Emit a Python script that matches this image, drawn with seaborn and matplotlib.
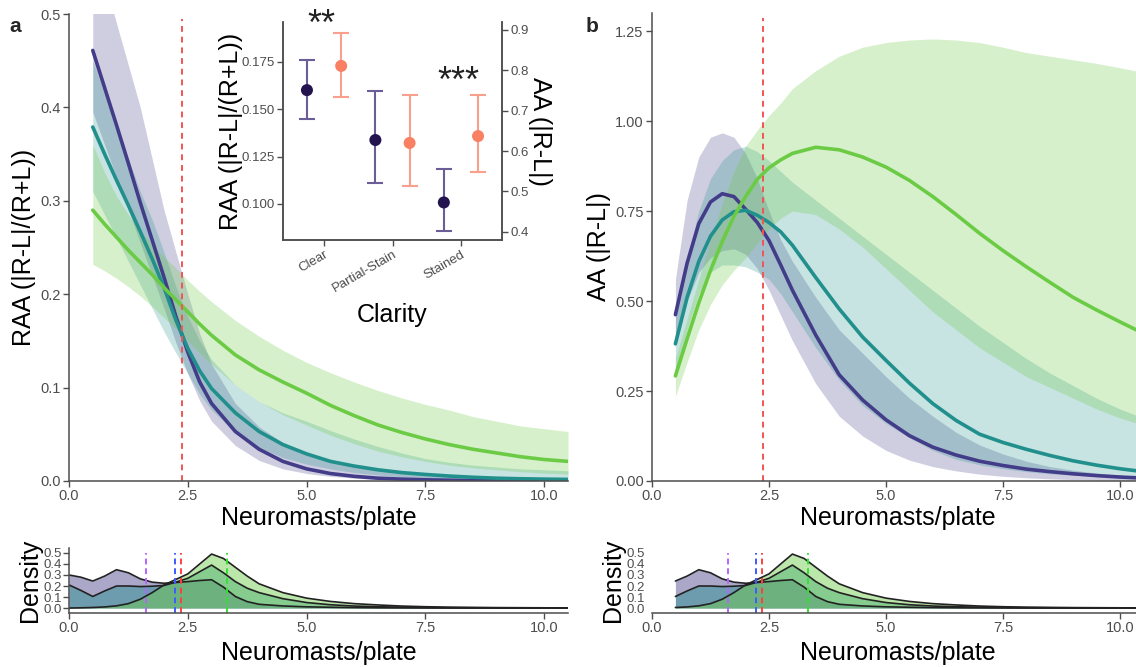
import numpy as np
import matplotlib
matplotlib.use('Agg')
import matplotlib.pyplot as plt
import seaborn as sns

sns.set_theme(style='ticks')
plt.rcParams['font.family'] = ['Liberation Sans', 'DejaVu Sans']

# ---------------- data ----------------
x_fit = [0.5, 0.75, 1.0, 1.25, 1.5, 1.75, 2.0, 2.25, 2.5, 2.75, 3.0, 3.5, 4.0, 4.5,
         5.0, 5.5, 6.0, 6.5, 7.0, 7.5, 8.0, 8.5, 9.0, 9.5, 10.0, 10.5]

# panel a : RAA
raa_navy = [0.461, 0.421, 0.381, 0.340, 0.298, 0.258, 0.218, 0.176, 0.138, 0.106, 0.083, 0.053, 0.034,
            0.021, 0.013, 0.008, 0.005, 0.003, 0.002, 0.0013, 0.0008, 0.0005, 0.0003, 0.0002, 0.0001, 0.0001]
raa_navy_lo = [0.395, 0.36, 0.325, 0.29, 0.255, 0.22, 0.185, 0.148, 0.115, 0.086, 0.064, 0.038, 0.022,
               0.013, 0.008, 0.005, 0.003, 0.0015, 0.001, 0.0005, 0.0003, 0.0002, 0.0001, 0.0001, 0.0, 0.0]
raa_navy_hi = [0.58, 0.535, 0.49, 0.445, 0.40, 0.345, 0.29, 0.245, 0.20, 0.158, 0.125, 0.083, 0.058,
               0.041, 0.030, 0.022, 0.016, 0.012, 0.009, 0.0065, 0.005, 0.0038, 0.003, 0.0023, 0.0018, 0.0014]
raa_teal = [0.379, 0.350, 0.322, 0.295, 0.267, 0.238, 0.207, 0.172, 0.142, 0.118, 0.099, 0.073, 0.053,
            0.039, 0.029, 0.021, 0.016, 0.012, 0.009, 0.007, 0.0053, 0.004, 0.003, 0.0024, 0.002, 0.0017]
raa_teal_lo = [0.31, 0.285, 0.26, 0.235, 0.21, 0.185, 0.16, 0.137, 0.115, 0.093, 0.076, 0.052, 0.036,
               0.025, 0.018, 0.013, 0.009, 0.0065, 0.0045, 0.0032, 0.0023, 0.0016, 0.0012, 0.0009, 0.0007, 0.0005]
raa_teal_hi = [0.45, 0.415, 0.38, 0.345, 0.31, 0.28, 0.245, 0.208, 0.176, 0.150, 0.130, 0.103, 0.085,
               0.073, 0.064, 0.054, 0.045, 0.037, 0.030, 0.024, 0.020, 0.017, 0.015, 0.013, 0.012, 0.011]
raa_green = [0.290, 0.275, 0.261, 0.247, 0.234, 0.221, 0.207, 0.194, 0.181, 0.168, 0.156, 0.135, 0.119,
             0.106, 0.094, 0.081, 0.070, 0.060, 0.052, 0.045, 0.039, 0.034, 0.030, 0.026, 0.023, 0.021]
raa_green_lo = [0.232, 0.225, 0.217, 0.208, 0.198, 0.187, 0.175, 0.163, 0.150, 0.137, 0.125, 0.103, 0.085,
                0.071, 0.060, 0.049, 0.040, 0.032, 0.026, 0.021, 0.017, 0.014, 0.012, 0.010, 0.0085, 0.0075]
raa_green_hi = [0.36, 0.33, 0.305, 0.285, 0.268, 0.253, 0.24, 0.228, 0.215, 0.203, 0.192, 0.172, 0.155,
                0.140, 0.127, 0.116, 0.106, 0.097, 0.089, 0.082, 0.076, 0.069, 0.064, 0.059, 0.056, 0.053]

# panel b : AA
aa_navy = [0.462, 0.605, 0.715, 0.775, 0.798, 0.790, 0.755, 0.718, 0.668, 0.600, 0.530, 0.405, 0.295,
           0.225, 0.170, 0.126, 0.094, 0.072, 0.055, 0.043, 0.033, 0.026, 0.020, 0.015, 0.011, 0.008]
aa_navy_lo = [0.38, 0.50, 0.58, 0.62, 0.64, 0.645, 0.63, 0.59, 0.53, 0.46, 0.39, 0.27, 0.18,
              0.125, 0.085, 0.058, 0.040, 0.028, 0.019, 0.013, 0.009, 0.006, 0.004, 0.003, 0.002, 0.001]
aa_navy_hi = [0.56, 0.78, 0.90, 0.955, 0.967, 0.955, 0.91, 0.84, 0.75, 0.67, 0.61, 0.51, 0.42,
              0.355, 0.29, 0.23, 0.18, 0.135, 0.10, 0.075, 0.055, 0.04, 0.03, 0.022, 0.016, 0.012]
aa_teal = [0.381, 0.510, 0.610, 0.680, 0.725, 0.748, 0.752, 0.738, 0.718, 0.692, 0.655, 0.565, 0.478,
           0.400, 0.335, 0.272, 0.215, 0.168, 0.130, 0.107, 0.088, 0.071, 0.056, 0.044, 0.034, 0.026]
aa_teal_lo = [0.30, 0.42, 0.52, 0.58, 0.60, 0.60, 0.595, 0.58, 0.56, 0.52, 0.47, 0.37, 0.28,
              0.21, 0.16, 0.12, 0.085, 0.06, 0.045, 0.034, 0.026, 0.020, 0.016, 0.013, 0.011, 0.009]
aa_teal_hi = [0.46, 0.62, 0.75, 0.84, 0.89, 0.92, 0.93, 0.915, 0.89, 0.86, 0.83, 0.78, 0.73,
              0.68, 0.63, 0.58, 0.53, 0.48, 0.43, 0.385, 0.34, 0.30, 0.265, 0.23, 0.20, 0.175]
aa_green = [0.292, 0.395, 0.495, 0.585, 0.665, 0.735, 0.790, 0.838, 0.870, 0.892, 0.910, 0.927, 0.920,
            0.900, 0.872, 0.835, 0.790, 0.740, 0.688, 0.640, 0.595, 0.552, 0.510, 0.475, 0.442, 0.410]
aa_green_lo = [0.235, 0.33, 0.42, 0.49, 0.545, 0.585, 0.62, 0.66, 0.70, 0.73, 0.75, 0.74, 0.70,
               0.65, 0.59, 0.53, 0.47, 0.42, 0.37, 0.33, 0.29, 0.26, 0.23, 0.20, 0.175, 0.155]
aa_green_hi = [0.34, 0.45, 0.56, 0.67, 0.77, 0.86, 0.93, 0.975, 1.015, 1.05, 1.09, 1.14, 1.18,
               1.205, 1.218, 1.225, 1.228, 1.225, 1.218, 1.205, 1.19, 1.18, 1.17, 1.16, 1.148, 1.135]

# densities
x_dens = [0.0, 0.25, 0.5, 0.75, 1.0, 1.25, 1.5, 1.75, 2.0, 2.25, 2.5, 2.75, 3.0, 3.25, 3.5, 3.75,
          4.0, 4.5, 5.0, 5.5, 6.0, 6.5, 7.0, 7.5, 8.0, 9.0, 10.0, 10.5]
dens_navy = [0.30, 0.28, 0.245, 0.29, 0.348, 0.32, 0.265, 0.235, 0.225, 0.232, 0.24, 0.25, 0.257, 0.19,
             0.105, 0.058, 0.034, 0.019, 0.011, 0.007, 0.004, 0.002, 0.001, 0.0005, 0.0, 0.0, 0.0, 0.0]
dens_teal = [0.21, 0.16, 0.105, 0.155, 0.20, 0.20, 0.195, 0.198, 0.205, 0.235, 0.27, 0.33, 0.39, 0.32,
             0.24, 0.18, 0.14, 0.085, 0.05, 0.03, 0.018, 0.012, 0.008, 0.005, 0.003, 0.001, 0.0005, 0.0]
dens_green = [0.0, 0.002, 0.005, 0.01, 0.02, 0.04, 0.08, 0.14, 0.21, 0.26, 0.31, 0.40, 0.49, 0.45,
              0.37, 0.29, 0.22, 0.14, 0.09, 0.06, 0.04, 0.028, 0.018, 0.012, 0.008, 0.004, 0.002, 0.001]
mean_lines = [1.63, 2.23, 2.35, 3.33]
mean_colors = ['#B266FF', '#3D5BFF', '#FF4040', '#33E033']
threshold = 2.37

# inset
clarity = ['Clear', 'Partial-Stain', 'Stained']
raa_pt = [0.160, 0.1337, 0.1008]
raa_lo = [0.145, 0.111, 0.0859]
raa_hi = [0.176, 0.1597, 0.1184]
aa_pt = [0.811, 0.620, 0.637]
aa_lo = [0.734, 0.513, 0.547]
aa_hi = [0.893, 0.740, 0.740]
stars = ['**', '', '***']

C_NAVY = '#433C89'
C_TEAL = '#21908C'
C_GREEN = '#6CCB45'
C_DOT = '#23134F'
C_SAL = '#FA8064'
GRAY = '#4D4D4D'
TICK_FS = 10.5
TITLE_FS = 18

W, H = 1136, 667
fig = plt.figure(figsize=(W / 100, H / 100), dpi=100)


def add_ax(l, t, r, b):
    return fig.add_axes([l / W, 1 - b / H, (r - l) / W, (b - t) / H])


def style(ax, left=True):
    sns.despine(ax=ax, left=not left)
    for s in ['left', 'bottom']:
        ax.spines[s].set_color(GRAY)
        ax.spines[s].set_linewidth(1.1)
    ax.tick_params(colors=GRAY, labelcolor=GRAY, length=4, width=1.0, labelsize=TICK_FS, pad=2)
    ax.set_facecolor('none')


xt = [0, 2.5, 5, 7.5, 10]
xtl = ['0.0', '2.5', '5.0', '7.5', '10.0']


def main_panel(ax, y, lo, hi, ylim, yt, ytl, ylabel):
    cols = [C_NAVY, C_TEAL, C_GREEN]
    for (l, h), c in zip(zip(lo, hi), cols):
        ax.fill_between(x_fit, l, h, color=c, alpha=0.25 if c != C_GREEN else 0.27, lw=0)
    for v, c in zip(y, cols):
        sns.lineplot(x=x_fit, y=v, ax=ax, color=c, lw=2.6, estimator=None, sort=False)
    ax.axvline(threshold, color='#F25555', ls=(0, (3, 2.5)), lw=1.4, ymax=0.99)
    ax.set_xlim(0, 10.5)
    ax.set_ylim(*ylim)
    ax.set_xticks(xt)
    ax.set_xticklabels(xtl)
    ax.set_yticks(yt)
    ax.set_yticklabels(ytl)
    ax.set_xlabel('Neuromasts/plate', fontsize=TITLE_FS, color='black', labelpad=2)
    ax.set_ylabel(ylabel, fontsize=TITLE_FS, color='black', labelpad=3)
    style(ax)


def dens_panel(ax, xmin, spine):
    xs = [v for v in x_dens if v >= xmin]
    n0 = len(x_dens) - len(xs)
    for d, c in zip([dens_navy, dens_teal, dens_green], [C_NAVY, C_TEAL, C_GREEN]):
        ds = d[n0:]
        ax.fill_between(xs, 0, ds, color=c, alpha=0.45, lw=0)
    for d in [dens_navy, dens_teal, dens_green]:
        ds = d[n0:]
        sns.lineplot(x=xs, y=ds, ax=ax, color='#222222', lw=1.2, estimator=None, sort=False)
    for m, c in zip(mean_lines, mean_colors):
        ax.axvline(m, color=c, ls=(0, (3, 2)), lw=1.4, ymax=0.92)
    ax.set_xlim(0, 10.5)
    ax.set_ylim(-0.045, 0.545)
    ax.set_xticks(xt)
    ax.set_xticklabels(xtl)
    ax.set_yticks([0, 0.1, 0.2, 0.3, 0.4, 0.5])
    ax.set_yticklabels(['0.0', '0.1', '0.2', '0.3', '0.4', '0.5'])
    ax.set_xlabel('Neuromasts/plate', fontsize=TITLE_FS, color='black', labelpad=4)
    ax.set_ylabel('Density', fontsize=TITLE_FS, color='black', labelpad=1)
    style(ax, left=spine)
    ax.tick_params(axis='y', labelsize=9.5, pad=1)
    if not spine:
        ax.tick_params(axis='y', color=(0, 0, 0, 0))


# panel a
ax_a = add_ax(69, 14, 568, 481)
main_panel(ax_a, [raa_navy, raa_teal, raa_green],
           [raa_navy_lo, raa_teal_lo, raa_green_lo],
           [raa_navy_hi, raa_teal_hi, raa_green_hi],
           (0, 0.5), [0, 0.1, 0.2, 0.3, 0.4, 0.5],
           ['0.0', '0.1', '0.2', '0.3', '0.4', '0.5'], 'RAA (|R-L|/(R+L))')

# panel b
bw = 46.8
ax_b = add_ax(652, 13, 652 + 10.5 * bw, 481)
main_panel(ax_b, [aa_navy, aa_teal, aa_green],
           [aa_navy_lo, aa_teal_lo, aa_green_lo],
           [aa_navy_hi, aa_teal_hi, aa_green_hi],
           (0, 1.3), [0, 0.25, 0.5, 0.75, 1.0, 1.25],
           ['0.00', '0.25', '0.50', '0.75', '1.00', '1.25'], 'AA (|R-L|)')

# densities
ax_da = add_ax(69, 548, 568, 613)
dens_panel(ax_da, 0.0, True)
ax_db = add_ax(652, 548, 652 + 10.5 * bw, 613)
dens_panel(ax_db, 0.5, False)

# inset
axi = add_ax(283, 22, 502, 240)
axr = axi.twinx()
pos = np.arange(len(clarity))
axi.errorbar(pos - 0.25, raa_pt,
             yerr=[np.array(raa_pt) - np.array(raa_lo), np.array(raa_hi) - np.array(raa_pt)],
             fmt='none', ecolor='#6B5E98', elinewidth=1.5, capsize=6, capthick=1.5)
sns.scatterplot(x=pos - 0.25, y=raa_pt, ax=axi, color=C_DOT, s=75, edgecolor='none', zorder=5)
axr.errorbar(pos + 0.25, aa_pt,
             yerr=[np.array(aa_pt) - np.array(aa_lo), np.array(aa_hi) - np.array(aa_pt)],
             fmt='none', ecolor='#F9A08C', elinewidth=1.5, capsize=6, capthick=1.5)
sns.scatterplot(x=pos + 0.25, y=aa_pt, ax=axr, color=C_SAL, s=75, edgecolor='none', zorder=5)
axi.set_xlim(-0.6, 2.6)
axi.set_ylim(0.081, 0.1959)
axr.set_ylim(0.3794, 0.9198)
axi.set_yticks([0.100, 0.125, 0.150, 0.175])
axi.set_yticklabels(['0.100', '0.125', '0.150', '0.175'])
axr.set_yticks([0.4, 0.5, 0.6, 0.7, 0.8, 0.9])
axr.set_yticklabels(['0.4', '0.5', '0.6', '0.7', '0.8', '0.9'])
axi.set_xticks(pos)
axi.set_xticklabels(clarity, rotation=30, ha='right', rotation_mode='anchor')
for a in (axi, axr):
    a.spines['top'].set_visible(False)
    for s in ['left', 'bottom', 'right']:
        a.spines[s].set_color(GRAY)
        a.spines[s].set_linewidth(1.1)
    a.tick_params(colors=GRAY, labelcolor=GRAY, length=4, width=1.0, labelsize=9.5, pad=2)
    a.set_facecolor('none')
axi.set_xlabel('Clarity', fontsize=TITLE_FS, color='black', labelpad=6)
axi.set_ylabel('RAA (|R-L|/(R+L))', fontsize=TITLE_FS, color='black', labelpad=-1)
axr.set_ylabel('AA (|R-L|)', fontsize=TITLE_FS, color='black', rotation=-90, labelpad=17)
# significance stars above the Clear and Stained pairs
star_y = [0.1942, None, 0.1642]
for p, s, sy in zip(pos, stars, star_y):
    if s:
        axi.text(p - 0.04, sy, s, fontsize=26, ha='center', va='center', color='#222222')

# panel letters
fig.text(15 / W, 1 - 26 / H, 'a', fontsize=15, fontweight='bold', ha='center', va='center')
fig.text(592 / W, 1 - 26 / H, 'b', fontsize=15, fontweight='bold', ha='center', va='center')

fig.savefig('out.png', dpi=100)
